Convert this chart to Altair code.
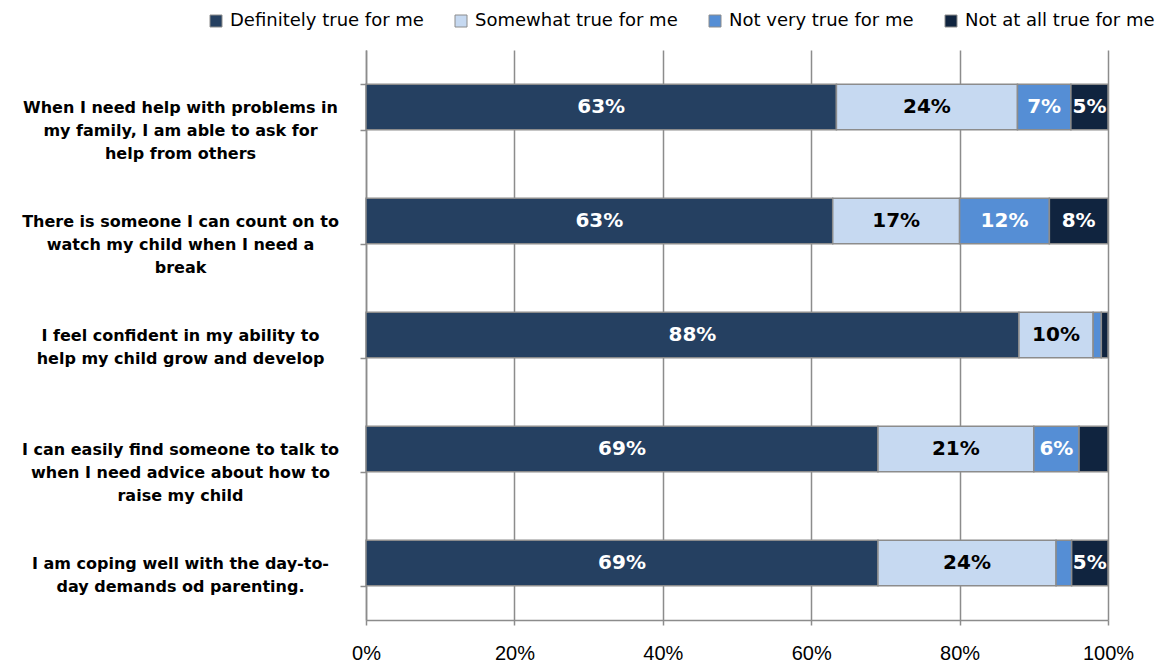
import altair as alt
import pandas as pd

questions = [
    "When I need help with problems in|my family, I am able to ask for|help from others",
    "There is someone I can count on to|watch my child when I need a|break",
    "I feel confident in my ability to|help my child grow and develop",
    "I can easily find someone to talk to|when I need advice about how to|raise my child",
    "I am coping well with the day-to-|day demands od parenting.",
]
series = ["Definitely true for me", "Somewhat true for me",
          "Not very true for me", "Not at all true for me"]
definitely = [63.4, 62.9, 88.0, 69.0, 69.0]
somewhat = [24.4, 17.1, 10.0, 21.0, 24.0]
not_very = [7.2, 12.1, 1.1, 6.1, 2.1]
not_at_all = [5.0, 7.9, 0.9, 3.9, 4.9]
colors = ["#254061", "#C6D9F1", "#558ED5", "#10243F"]
x_ticks = [0, 20, 40, 60, 80, 100]

rows = []
for s_i, (s, vals) in enumerate(zip(series, [definitely, somewhat, not_very, not_at_all])):
    for q, v in zip(questions, vals):
        rows.append({"question": q, "series": s, "order": s_i, "value": v})
df = pd.DataFrame(rows)

base = alt.Chart(df).transform_stack(
    stack="value", groupby=["question"], as_=["x0", "x1"],
    sort=[alt.SortField("order", order="ascending")]
).transform_calculate(
    mid="(datum.x0 + datum.x1) / 2",
    label="format(datum.value, '.0f') + '%'"
)

yenc = alt.Y(
    "question:N", sort=questions, title="",
    scale=alt.Scale(paddingInner=0.6, paddingOuter=0.3),
    axis=alt.Axis(
        labelExpr="split(datum.label, '|')",
        labelFont="DejaVu Sans", labelFontSize=16, labelFontWeight="bold",
        labelColor="black", labelAlign="center", labelBaseline="middle",
        labelPadding=180, labelLineHeight=23, labelLimit=400,
        tickBand="extent", tickSize=6, tickColor="#8C8C8C", tickWidth=1.5,
        domainColor="#8C8C8C", domainWidth=1.5, grid=False,
    ),
)

bars = base.mark_bar(stroke="#8C8C8C", strokeWidth=1.5).encode(
    x=alt.X(
        "x0:Q", title="",
        scale=alt.Scale(domain=[0, 100], nice=False),
        axis=alt.Axis(
            values=x_ticks, labelExpr="datum.value + '%'", labelFlush=False,
            labelFont="Liberation Sans", labelFontSize=20, labelColor="black",
            labelPadding=18, tickSize=5, tickColor="#8C8C8C", tickWidth=1.5,
            domainColor="#8C8C8C", domainWidth=1.5,
            grid=True, gridColor="#8C8C8C", gridWidth=1.5,
        ),
    ),
    x2="x1:Q",
    y=yenc,
    color=alt.Color(
        "series:N", title="",
        scale=alt.Scale(domain=series, range=colors),
        sort=series,
        legend=alt.Legend(
            orient="none", legendX=-159, legendY=-38, direction="horizontal",
            symbolType="square", symbolSize=144, symbolStrokeColor="#8C8C8C",
            symbolStrokeWidth=1, labelFont="DejaVu Sans", labelFontSize=18,
            labelColor="black", columnPadding=28, labelOffset=5, labelLimit=400,
        ),
    ),
)

texts = base.transform_filter("datum.value >= 4.5").mark_text(
    font="DejaVu Sans", fontSize=20, fontWeight="bold", baseline="middle", align="center"
).encode(
    x="mid:Q",
    y=alt.Y("question:N", sort=questions),
    text="label:N",
    color=alt.condition("datum.series == 'Somewhat true for me'",
                        alt.value("black"), alt.value("white")),
)

chart = alt.layer(bars, texts).properties(
    width=742, height=570,
    autosize=alt.AutoSizeParams(type="none"),
    padding={"left": 358, "top": 42, "right": 48, "bottom": 50},
).configure_view(stroke=None)

chart.save("out.html", embed_options={"renderer": "svg", "actions": False})
